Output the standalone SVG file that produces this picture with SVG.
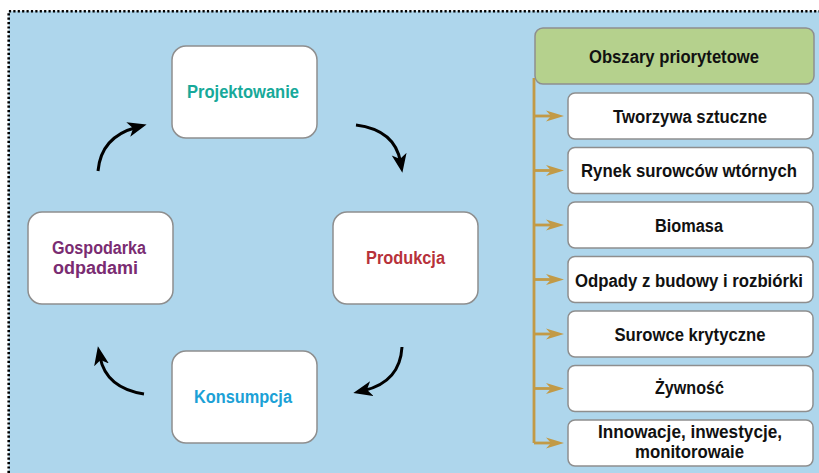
<svg xmlns="http://www.w3.org/2000/svg" width="819" height="473" viewBox="0 0 819 473">
<defs>
<style>
.bg{fill:#AED6EC}
.dot{stroke:#000;stroke-width:2.6;stroke-dasharray:2.2 2.2;fill:none}
.node{fill:#fff;stroke:#8E8E8E;stroke-width:1.5}
.head{fill:#B5D18D;stroke:#8E8E8E;stroke-width:1.5}
.t{font-family:"Liberation Sans",Arial,sans-serif;font-weight:bold;font-size:18px;text-anchor:middle}
.k{fill:#111}
.cyc{fill:none;stroke:#000;stroke-width:3}
.gold{fill:none;stroke:#C29A46;stroke-width:2.8}
</style>
<marker id="ab" markerUnits="userSpaceOnUse" markerWidth="20" markerHeight="16" refX="8" refY="7.5" orient="auto" viewBox="0 0 20 15">
<path d="M0,0 L19,7.5 L0,15 L5,7.5 z" fill="#000"/>
</marker>
<marker id="ag" markerUnits="userSpaceOnUse" markerWidth="20" markerHeight="12" refX="5" refY="5.5" orient="auto" viewBox="0 0 20 11">
<path d="M0,0 L18,5.5 L0,11 L5,5.5 z" fill="#C29A46"/>
</marker>
</defs>
<rect class="bg" x="8.7" y="11.2" width="811" height="462"/>
<path class="dot" d="M8.7,473 V11.2 H819"/>

<g id="connectors">
<path class="cyc" d="M98,171 Q101,137 136,127.5" marker-end="url(#ab)"/>
<path class="cyc" d="M356,125 Q395,130 400.5,162" marker-end="url(#ab)"/>
<path class="cyc" d="M402,347 Q400,382 364,390.5" marker-end="url(#ab)"/>
<path class="cyc" d="M144,394 Q106,388 100,357" marker-end="url(#ab)"/>
<path class="gold" d="M534,78 V443"/>
<path class="gold" d="M534,116 H551" marker-end="url(#ag)"/>
<path class="gold" d="M534,170.5 H551" marker-end="url(#ag)"/>
<path class="gold" d="M534,225 H551" marker-end="url(#ag)"/>
<path class="gold" d="M534,279.5 H551" marker-end="url(#ag)"/>
<path class="gold" d="M534,334 H551" marker-end="url(#ag)"/>
<path class="gold" d="M534,388.5 H551" marker-end="url(#ag)"/>
<path class="gold" d="M534,443 H551" marker-end="url(#ag)"/>
</g>

<g id="projektowanie">
<rect class="node" x="172" y="46" width="145" height="92" rx="14"/>
<text class="t" x="243" y="98" fill="#17A99A" textLength="112" lengthAdjust="spacingAndGlyphs">Projektowanie</text>
</g>
<g id="produkcja">
<rect class="node" x="333" y="212" width="145" height="92" rx="14"/>
<text class="t" x="405.5" y="264" fill="#B7323A" textLength="79" lengthAdjust="spacingAndGlyphs">Produkcja</text>
</g>
<g id="konsumpcja">
<rect class="node" x="172" y="351" width="145" height="92" rx="14"/>
<text class="t" x="243" y="403" fill="#1BA1D6" textLength="98" lengthAdjust="spacingAndGlyphs">Konsumpcja</text>
</g>
<g id="gospodarka">
<rect class="node" x="28" y="212" width="145" height="92" rx="14"/>
<text class="t" x="99" y="254" fill="#7A2C72" textLength="94" lengthAdjust="spacingAndGlyphs">Gospodarka</text>
<text class="t" x="95.5" y="274" fill="#7A2C72" textLength="85" lengthAdjust="spacingAndGlyphs">odpadami</text>
</g>

<g id="obszary">
<rect class="head" x="535" y="28" width="279" height="56" rx="8"/>
<text class="t k" x="674" y="63" textLength="170" lengthAdjust="spacingAndGlyphs">Obszary priorytetowe</text>
</g>
<g id="tworzywa">
<rect class="node" x="568" y="93" width="245" height="46" rx="7"/>
<text class="t k" x="690" y="123" textLength="154" lengthAdjust="spacingAndGlyphs">Tworzywa sztuczne</text>
</g>
<g id="rynek">
<rect class="node" x="568" y="147.5" width="245" height="46" rx="7"/>
<text class="t k" x="689" y="177" textLength="216" lengthAdjust="spacingAndGlyphs">Rynek surowców wtórnych</text>
</g>
<g id="biomasa">
<rect class="node" x="568" y="202" width="245" height="46" rx="7"/>
<text class="t k" x="689" y="232" textLength="68" lengthAdjust="spacingAndGlyphs">Biomasa</text>
</g>
<g id="odpady">
<rect class="node" x="568" y="256.5" width="245" height="46" rx="7"/>
<text class="t k" x="689" y="287" textLength="228" lengthAdjust="spacingAndGlyphs">Odpady z budowy i rozbiórki</text>
</g>
<g id="surowce">
<rect class="node" x="568" y="311" width="245" height="46" rx="7"/>
<text class="t k" x="690" y="341" textLength="151" lengthAdjust="spacingAndGlyphs">Surowce krytyczne</text>
</g>
<g id="zywnosc">
<rect class="node" x="568" y="365.5" width="245" height="46" rx="7"/>
<text class="t k" x="689.5" y="394" textLength="69" lengthAdjust="spacingAndGlyphs">Żywność</text>
</g>
<g id="innowacje">
<rect class="node" x="568" y="420" width="245" height="46" rx="7"/>
<text class="t k" x="690" y="438" textLength="184" lengthAdjust="spacingAndGlyphs">Innowacje, inwestycje,</text>
<text class="t k" x="689.5" y="458" textLength="109" lengthAdjust="spacingAndGlyphs">monitorowaie</text>
</g>
</svg>
